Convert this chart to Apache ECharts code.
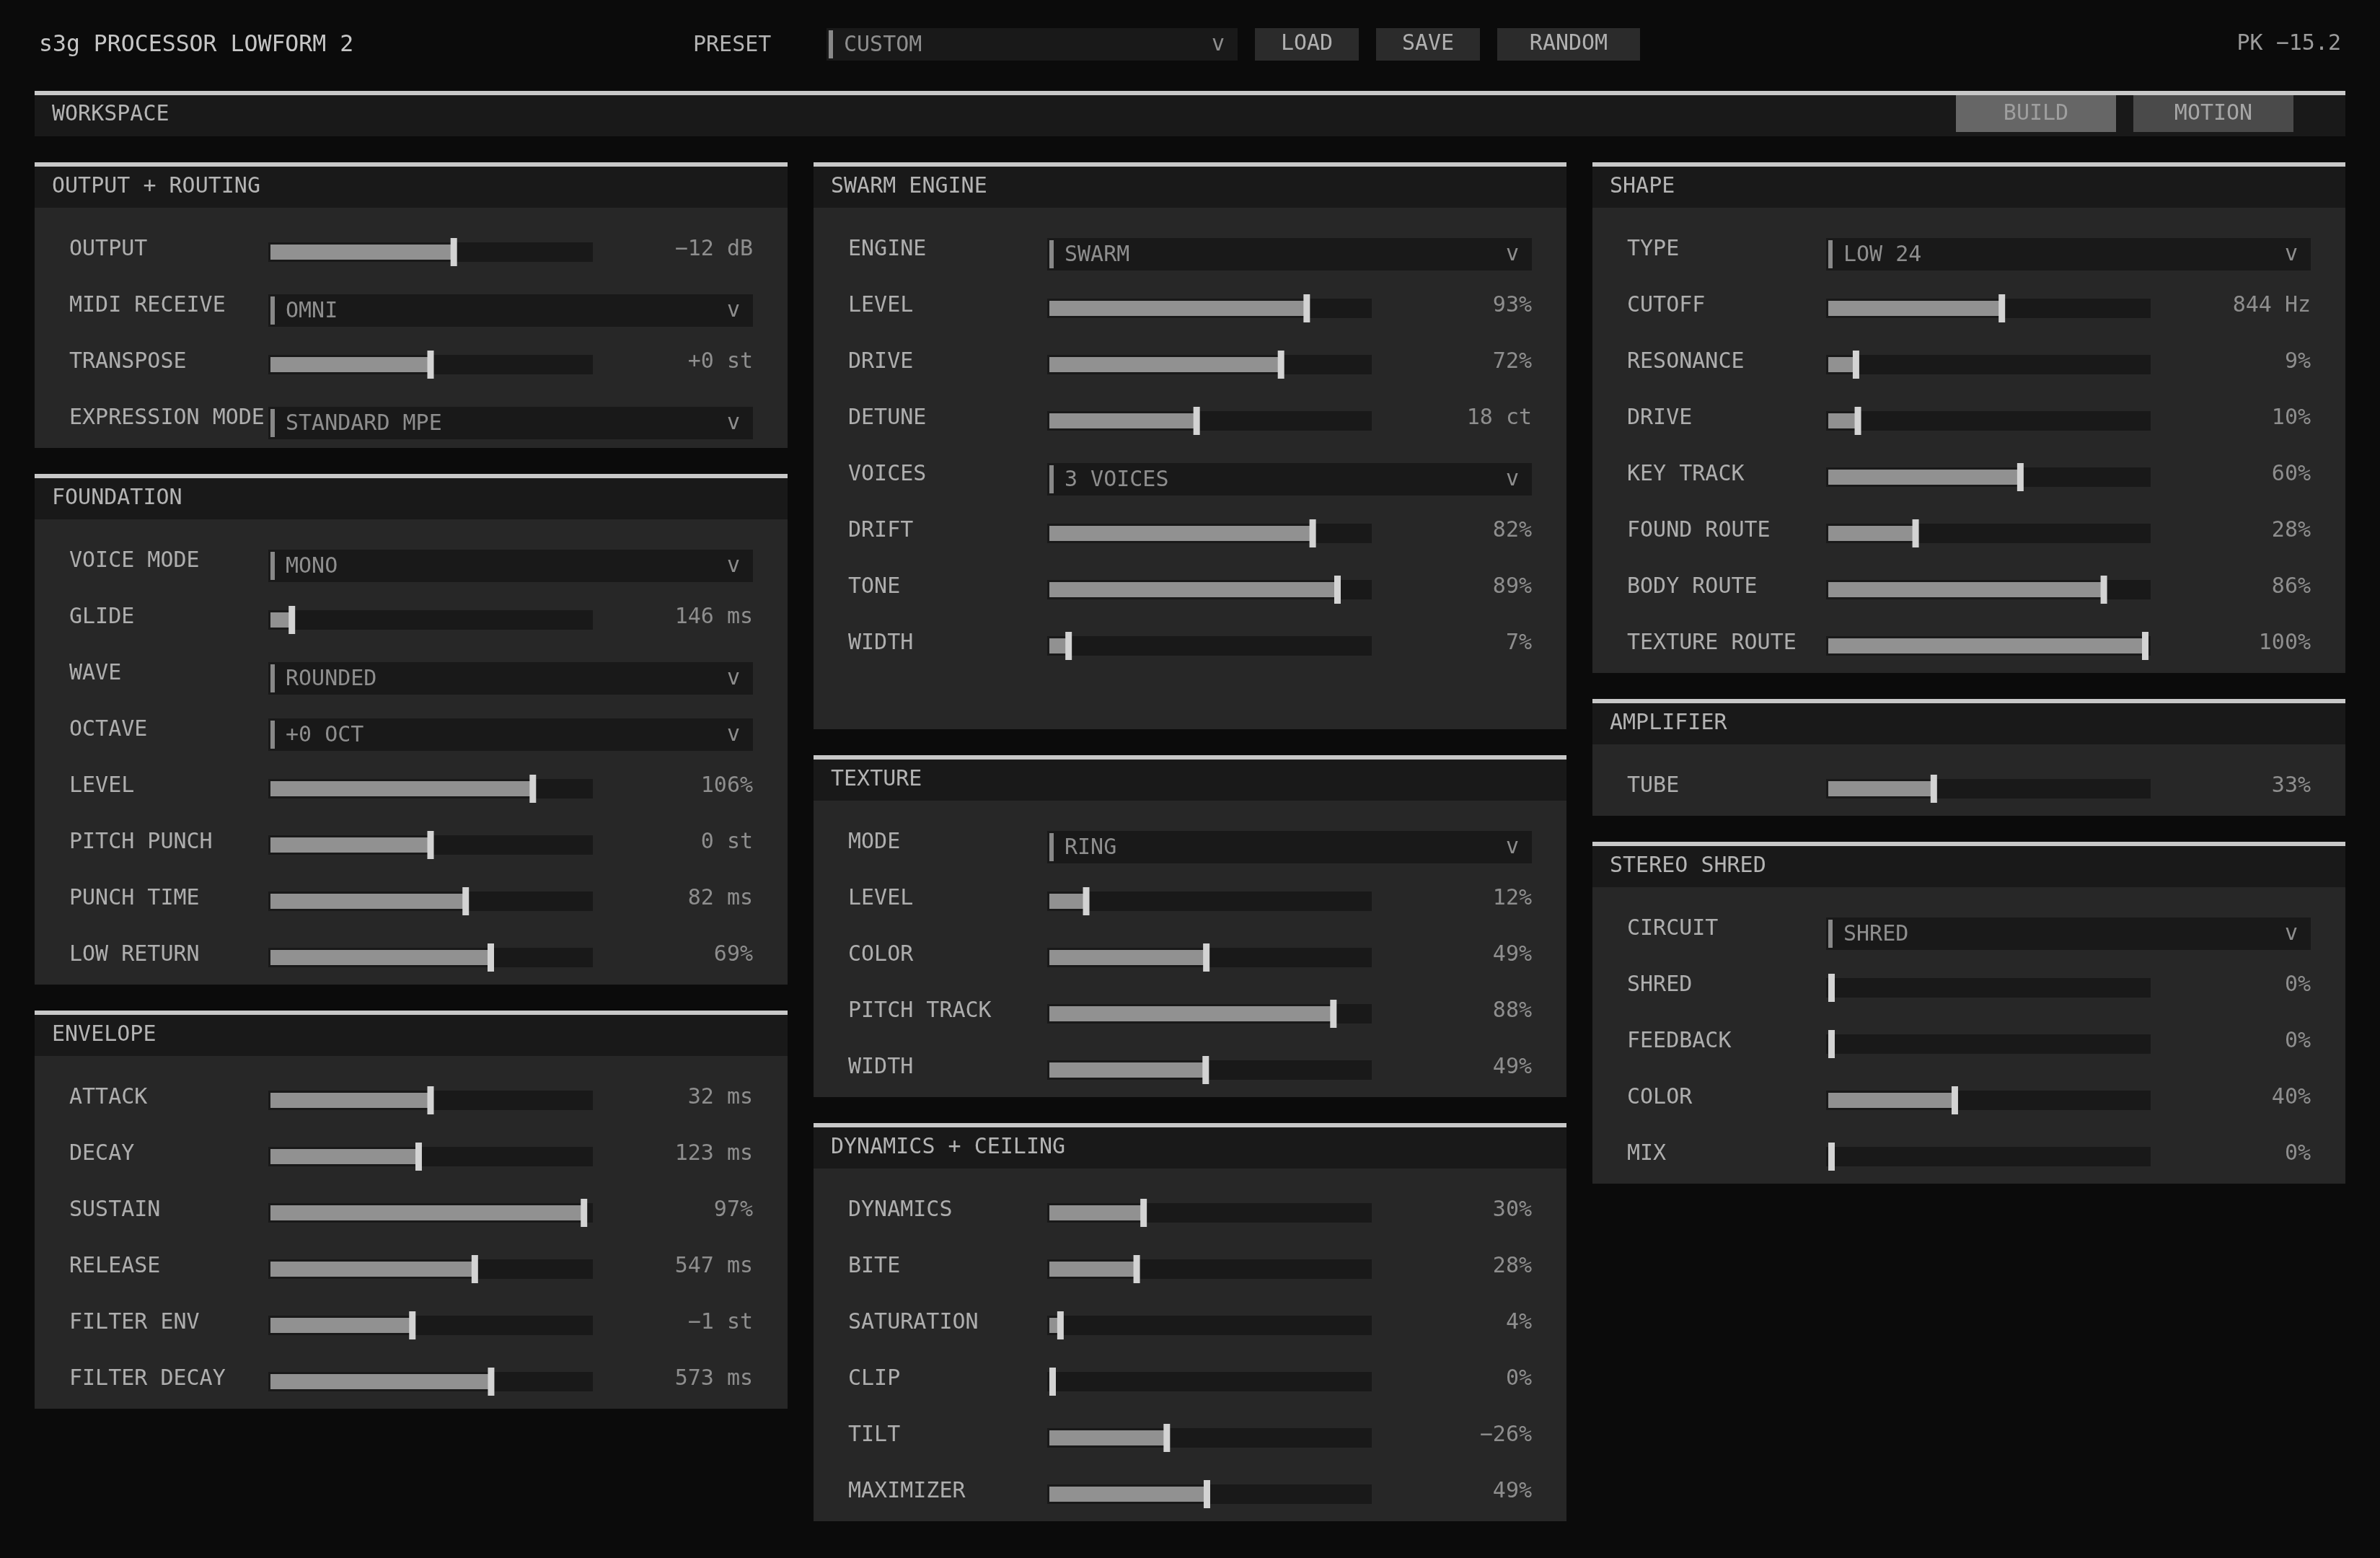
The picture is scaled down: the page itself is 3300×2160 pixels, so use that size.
<!DOCTYPE html>
<html>
<head>
<meta charset="utf-8">
<title>s3g PROCESSOR LOWFORM 2</title>
<script src="https://cdn.jsdelivr.net/npm/echarts@6/dist/echarts.min.js"></script>
<style>
html, body { margin: 0; padding: 0; background: #0b0b0b; }
#chart { width: 3300px; height: 2160px; }
</style>
</head>
<body>
<div id="chart"></div>
<script>
var outputNames = ['OUTPUT', 'MIDI RECEIVE', 'TRANSPOSE', 'EXPRESSION MODE'];
var outputValues = [57.4, null, 50, null];
var outputTexts = ['−12 dB', 'OMNI', '+0 st', 'STANDARD MPE'];

var foundationNames = ['VOICE MODE', 'GLIDE', 'WAVE', 'OCTAVE', 'LEVEL', 'PITCH PUNCH', 'PUNCH TIME', 'LOW RETURN'];
var foundationValues = [null, 5.8, null, null, 82.6, 50, 61.2, 69.2];
var foundationTexts = ['MONO', '146 ms', 'ROUNDED', '+0 OCT', '106%', '0 st', '82 ms', '69%'];

var envelopeNames = ['ATTACK', 'DECAY', 'SUSTAIN', 'RELEASE', 'FILTER ENV', 'FILTER DECAY'];
var envelopeValues = [50, 46.2, 98.9, 64.1, 44.2, 69.3];
var envelopeTexts = ['32 ms', '123 ms', '97%', '547 ms', '−1 st', '573 ms'];

var swarmNames = ['ENGINE', 'LEVEL', 'DRIVE', 'DETUNE', 'VOICES', 'DRIFT', 'TONE', 'WIDTH'];
var swarmValues = [null, 81, 72.8, 45.9, null, 82.9, 90.8, 5.1];
var swarmTexts = ['SWARM', '93%', '72%', '18 ct', '3 VOICES', '82%', '89%', '7%'];

var textureNames = ['MODE', 'LEVEL', 'COLOR', 'PITCH TRACK', 'WIDTH'];
var textureValues = [null, 10.7, 49, 89.5, 48.8];
var textureTexts = ['RING', '12%', '49%', '88%', '49%'];

var dynamicsNames = ['DYNAMICS', 'BITE', 'SATURATION', 'CLIP', 'TILT', 'MAXIMIZER'];
var dynamicsValues = [29, 26.8, 2.5, 0, 36.4, 49.2];
var dynamicsTexts = ['30%', '28%', '4%', '0%', '−26%', '49%'];

var shapeNames = ['TYPE', 'CUTOFF', 'RESONANCE', 'DRIVE', 'KEY TRACK', 'FOUND ROUTE', 'BODY ROUTE', 'TEXTURE ROUTE'];
var shapeValues = [null, 54.3, 7.8, 8.4, 60.2, 26.8, 86.8, 100];
var shapeTexts = ['LOW 24', '844 Hz', '9%', '10%', '60%', '28%', '86%', '100%'];

var amplifierNames = ['TUBE'];
var amplifierValues = [32.6];
var amplifierTexts = ['33%'];

var shredNames = ['CIRCUIT', 'SHRED', 'FEEDBACK', 'COLOR', 'MIX'];
var shredValues = [null, 0, 0, 39.3, 0];
var shredTexts = ['SHRED', '0%', '0%', '40%', '0%'];

var topButtons = ['LOAD', 'SAVE', 'RANDOM'];
var tabs = ['BUILD', 'MOTION'];

// columns top to bottom. slots = row count the panel is tall (swarm has a spare one)
var columns = [
	[
		{ title: 'OUTPUT + ROUTING', names: outputNames, values: outputValues, texts: outputTexts },
		{ title: 'FOUNDATION', names: foundationNames, values: foundationValues, texts: foundationTexts },
		{ title: 'ENVELOPE', names: envelopeNames, values: envelopeValues, texts: envelopeTexts }
	],
	[
		{ title: 'SWARM ENGINE', names: swarmNames, values: swarmValues, texts: swarmTexts, slots: 9 },
		{ title: 'TEXTURE', names: textureNames, values: textureValues, texts: textureTexts },
		{ title: 'DYNAMICS + CEILING', names: dynamicsNames, values: dynamicsValues, texts: dynamicsTexts }
	],
	[
		{ title: 'SHAPE', names: shapeNames, values: shapeValues, texts: shapeTexts },
		{ title: 'AMPLIFIER', names: amplifierNames, values: amplifierValues, texts: amplifierTexts },
		{ title: 'STEREO SHRED', names: shredNames, values: shredValues, texts: shredTexts }
	]
];

var FONT = '"DejaVu Sans Mono", monospace';
var ROW = 78;
var TRACK_DY = 3; // tracks sit this far below the row's text line
var C = {
	page: '#0b0b0b', panel: '#272727', head: '#191919', rule: '#c8c8c8', track: '#191919',
	fill: '#919191', knob: '#d3d3d3', pip: '#888888', label: '#aeaeae', value: '#8e8e8e',
	title: '#b4b4b4', button: '#2b2b2b'
};

var chrome = [];
function box(x, y, w, h, fill) {
	chrome.push({ type: 'rect', z: -2, silent: true, shape: { x: x, y: y, width: w, height: h }, style: { fill: fill } });
}
function label(x, y, str, fill, align, size) {
	chrome.push({
		type: 'text', z: -1, silent: true, x: x, y: y,
		style: { text: str, fill: fill, font: (size || 30) + 'px ' + FONT, textAlign: align || 'left', textVerticalAlign: 'middle' }
	});
}

/* S top bar */
label(54, 63, 's3g PROCESSOR LOWFORM 2', '#c6c6c6', 'left', 31.5);
label(961, 63, 'PRESET', '#b4b4b4');
box(1146, 39, 570, 45, C.head);
box(1149, 42, 6, 39, C.pip);
label(1170, 63, 'CUSTOM', C.value);
label(1689, 62, 'v', C.value, 'center');
var buttonX = [[1740, 144], [1908, 144], [2076, 198]];
topButtons.forEach(function(name, i) {
	box(buttonX[i][0], 39, buttonX[i][1], 45, C.button);
	label(buttonX[i][0] + buttonX[i][1] / 2, 61, name, '#b0b0b0', 'center');
});
label(3246, 61, 'PK −15.2', '#9c9c9c', 'right');
/* E top bar */

/* S workspace strip */
box(48, 126, 3204, 63, C.head);
box(48, 126, 3204, 6, C.rule);
label(72, 159, 'WORKSPACE', C.title);
var tabX = [[2712, 222, '#666666', '#9f9f9f'], [2958, 222, '#4a4a4a', '#a6a6a6']];
tabs.forEach(function(name, i) {
	box(tabX[i][0], 132, tabX[i][1], 51, tabX[i][2]);
	label(tabX[i][0] + tabX[i][1] / 2, 158, name, tabX[i][3], 'center');
});
/* E workspace strip */

var grids = [], xAxes = [], yAxes = [], series = [];

function addPanel(p, left, top) {
	var slots = p.slots || p.names.length;
	var index = grids.length;
	box(left, top, 1044, slots * ROW + 84, C.panel);
	box(left, top + 6, 1044, 57, C.head);
	box(left, top, 1044, 6, C.rule);
	label(left + 24, top + 34, p.title, C.title);

	grids.push({ left: left + 331.5, top: top + 85.5 - TRACK_DY, width: 435, height: p.names.length * ROW });
	xAxes.push({ type: 'value', gridIndex: index, min: 0, max: 100, show: false });
	yAxes.push({
		type: 'category', gridIndex: index, inverse: true, data: p.names,
		axisLine: { show: false }, axisTick: { show: false }, splitLine: { show: false },
		axisLabel: {
			interval: 0, margin: 283.5, align: 'left', color: C.label,
			fontFamily: FONT, fontSize: 30
		}
	});

	var sliderData = [], selectData = [];
	p.values.forEach(function(v, row) {
		if (v === null) {
			selectData.push([0, row]);
		} else {
			sliderData.push([v, row]);
		}
	});

	series.push({
		type: 'custom', xAxisIndex: index, yAxisIndex: index, silent: true, clip: false,
		encode: { x: 0, y: 1 }, data: sliderData,
		renderItem: function(params, api) {
			var pt = api.coord([api.value(0), api.value(1)]);
			var x0 = params.coordSys.x;
			var cy = pt[1] + TRACK_DY;
			return {
				type: 'group',
				children: [
					{ type: 'rect', shape: { x: x0 - 7.5, y: cy - 13.5, width: 450, height: 27 }, style: { fill: C.track } },
					{ type: 'rect', shape: { x: x0 - 4.5, y: cy - 10.5, width: pt[0] - x0 + 4.5, height: 21 }, style: { fill: C.fill } },
					{ type: 'rect', shape: { x: pt[0] - 4.5, y: cy - 19.5, width: 9, height: 39 }, style: { fill: C.knob } },
					{
						type: 'text', x: x0 + 664.5, y: pt[1],
						style: { text: p.texts[api.value(1)], fill: C.value, font: '30px ' + FONT, textAlign: 'right', textVerticalAlign: 'middle' }
					}
				]
			};
		}
	});
	if (selectData.length) {
		series.push({
			type: 'custom', xAxisIndex: index, yAxisIndex: index, silent: true, clip: false,
			encode: { x: 0, y: 1 }, data: selectData,
			renderItem: function(params, api) {
				var pt = api.coord([0, api.value(1)]);
				var x0 = params.coordSys.x;
				var cy = pt[1] + TRACK_DY + 3;
				return {
					type: 'group',
					children: [
						{ type: 'rect', shape: { x: x0 - 7.5, y: cy - 22.5, width: 672, height: 45 }, style: { fill: C.head } },
						{ type: 'rect', shape: { x: x0 - 4.5, y: cy - 19.5, width: 6, height: 39 }, style: { fill: C.pip } },
						{
							type: 'text', x: x0 + 16.5, y: cy + 2,
							style: { text: p.texts[api.value(1)], fill: C.value, font: '30px ' + FONT, textAlign: 'left', textVerticalAlign: 'middle' }
						},
						{
							type: 'text', x: x0 + 637.5, y: cy + 1,
							style: { text: 'v', fill: C.value, font: '30px ' + FONT, textAlign: 'center', textVerticalAlign: 'middle' }
						}
					]
				};
			}
		});
	}
	return slots * ROW + 84;
}

columns.forEach(function(col, c) {
	var left = 48 + c * 1080;
	var top = 225;
	col.forEach(function(p) {
		top += addPanel(p, left, top) + 36;
	});
});

var chart = echarts.init(document.getElementById('chart'));
chart.setOption({
	animation: false,
	backgroundColor: C.page,
	graphic: { elements: chrome },
	grid: grids,
	xAxis: xAxes,
	yAxis: yAxes,
	series: series
});
</script>
</body>
</html>
